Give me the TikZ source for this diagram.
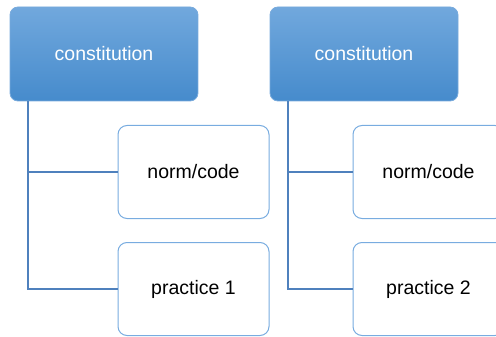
\documentclass[tikz,border=0pt]{standalone}
\usepackage{fontspec}
\setmainfont{Liberation Sans}
\usetikzlibrary{positioning}

\definecolor{headtop}{RGB}{113,168,221}
\definecolor{headbot}{RGB}{70,139,204}
\definecolor{headline}{RGB}{120,170,220}
\definecolor{boxline}{RGB}{120,172,224}
\definecolor{linkblue}{RGB}{79,129,189}

\begin{document}
\begin{tikzpicture}[x=1pt, y=-1pt]
	\tikzset{head/.style = {rectangle, rounded corners=8pt, draw=headline, line width=0.8pt,
		top color=headtop, bottom color=headbot, text=white,
		minimum width=188pt, minimum height=94pt, font=\fontsize{19.5}{23}\selectfont}}
	\tikzset{leaf/.style = {rectangle, rounded corners=9pt, draw=boxline, line width=1pt,
		fill=white, text=black,
		minimum width=151pt, minimum height=93pt, font=\fontsize{19.5}{23}\selectfont}}
	\tikzset{link/.style = {draw=linkblue, line width=1.2pt}}
	\clip (0,0) rectangle (496,337);
	% first tree
	\node[head] (cons1) at (104,54) {constitution};
	\node[leaf] (norm1) at (193.5,172) {norm/code};
	\node[leaf] (prac1) at (193.5,289) {practice 1};
	\coordinate (rail1) at (28,290);
	% second tree
	\node[head] (cons2) at (364,54) {constitution};
	\node[leaf] (norm2) at (428.5,172) {norm/code};
	\node[leaf] (prac2) at (428.5,289) {practice 2};
	\coordinate (rail2) at (288,290);
	% connectors
	\draw[link] (cons1.south -| rail1) |- (prac1.west);
	\draw[link] (rail1 |- norm1.west) -- (norm1.west);
	\draw[link] (cons2.south -| rail2) |- (prac2.west);
	\draw[link] (rail2 |- norm2.west) -- (norm2.west);
\end{tikzpicture}
\end{document}
